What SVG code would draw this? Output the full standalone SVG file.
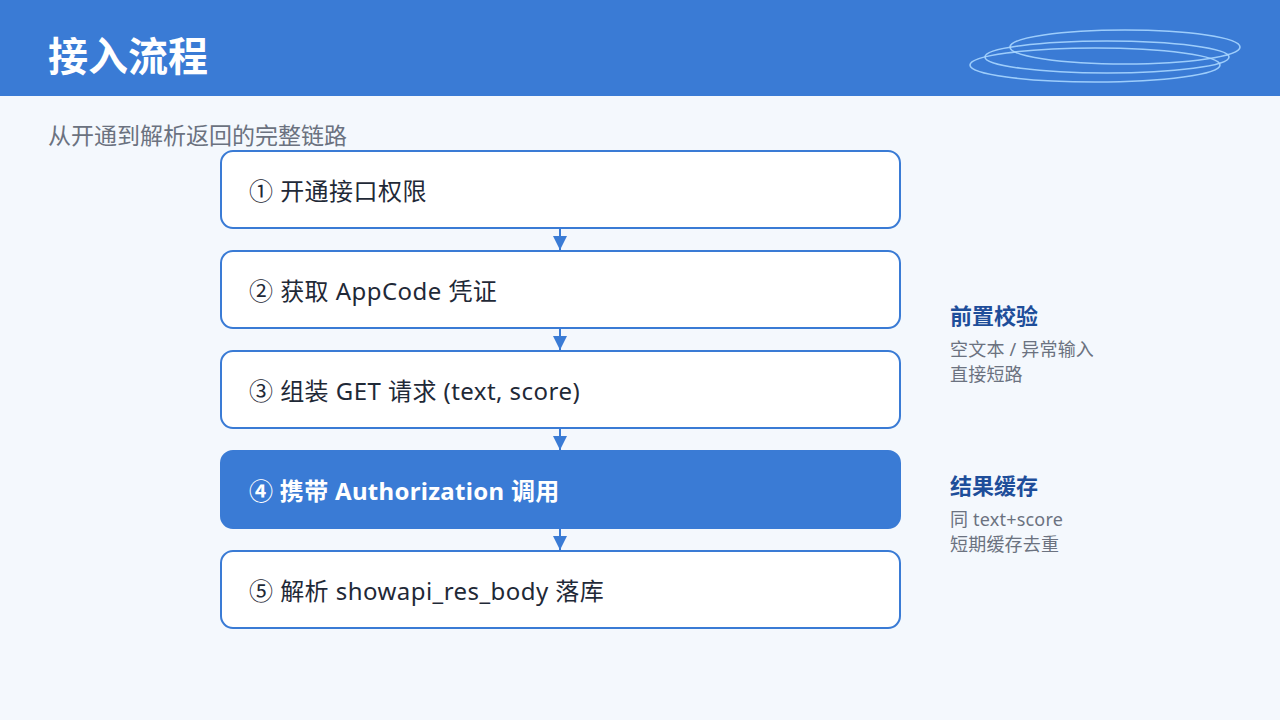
<svg xmlns="http://www.w3.org/2000/svg" width="1280" height="720" viewBox="0 0 1280 720">
<defs>
<style>
.t{font-family:"Noto Sans","Noto Sans CJK SC",sans-serif}
.box{fill:#ffffff;stroke:#3a7bd5;stroke-width:2}
.boxa{fill:#3a7bd5;stroke:#3a7bd5;stroke-width:2}
.lbl{font-size:24px;fill:#1f2937;letter-spacing:0.45px}
.lbla{font-size:24px;fill:#ffffff;font-weight:bold;letter-spacing:0.3px}
.side-h{font-size:22px;font-weight:bold;fill:#1e4e9a}
.side-b{font-size:18px;fill:#6b7280;letter-spacing:0.2px}
.ring{fill:none;stroke:#a9d6ff;stroke-width:1.6;opacity:0.9}
.edge{stroke:#3a7bd5;stroke-width:2;fill:none}
</style>
<marker id="ah" viewBox="0 0 10 10" refX="10" refY="5" markerWidth="15" markerHeight="14" markerUnits="userSpaceOnUse" orient="auto">
<path d="M0,0 L10,5 L0,10 Z" fill="#3a7bd5"/>
</marker>
</defs>
<rect x="0" y="0" width="1280" height="720" fill="#f4f8fd"/>
<g id="header">
<rect x="0" y="0" width="1280" height="96" fill="#3a7bd5"/>
<ellipse class="ring" cx="1125" cy="47" rx="115" ry="17"/>
<ellipse class="ring" cx="1107" cy="57" rx="122" ry="16"/>
<ellipse class="ring" cx="1095" cy="65" rx="125" ry="17"/>
<text class="t" x="48" y="71" font-size="40" font-weight="bold" fill="#ffffff">接入流程</text>
</g>
<text class="t" x="48" y="144" font-size="23" fill="#6b7280">从开通到解析返回的完整链路</text>
<g id="connectors">
<line class="edge" x1="560" y1="228" x2="560" y2="250" marker-end="url(#ah)"/>
<line class="edge" x1="560" y1="328" x2="560" y2="350" marker-end="url(#ah)"/>
<line class="edge" x1="560" y1="428" x2="560" y2="450" marker-end="url(#ah)"/>
<line class="edge" x1="560" y1="528" x2="560" y2="550" marker-end="url(#ah)"/>
</g>
<g id="step1">
<rect class="box" x="221" y="151" width="679" height="77" rx="12"/>
<text class="t lbl" x="249" y="200">① 开通接口权限</text>
</g>
<g id="step2">
<rect class="box" x="221" y="251" width="679" height="77" rx="12"/>
<text class="t lbl" x="249" y="300">② 获取 AppCode 凭证</text>
</g>
<g id="step3">
<rect class="box" x="221" y="351" width="679" height="77" rx="12"/>
<text class="t lbl" x="249" y="400">③ 组装 GET 请求 (text, score)</text>
</g>
<g id="step4">
<rect class="boxa" x="221" y="451" width="679" height="77" rx="12"/>
<text class="t lbla" x="249" y="500">④ 携带 Authorization 调用</text>
</g>
<g id="step5">
<rect class="box" x="221" y="551" width="679" height="77" rx="12"/>
<text class="t lbl" x="249" y="600">⑤ 解析 showapi_res_body 落库</text>
</g>
<g id="note1">
<text class="t side-h" x="950" y="324">前置校验</text>
<text class="t side-b" x="950" y="356">空文本 / 异常输入</text>
<text class="t side-b" x="950" y="381">直接短路</text>
</g>
<g id="note2">
<text class="t side-h" x="950" y="494">结果缓存</text>
<text class="t side-b" x="950" y="526">同 text+score</text>
<text class="t side-b" x="950" y="551">短期缓存去重</text>
</g>
</svg>
